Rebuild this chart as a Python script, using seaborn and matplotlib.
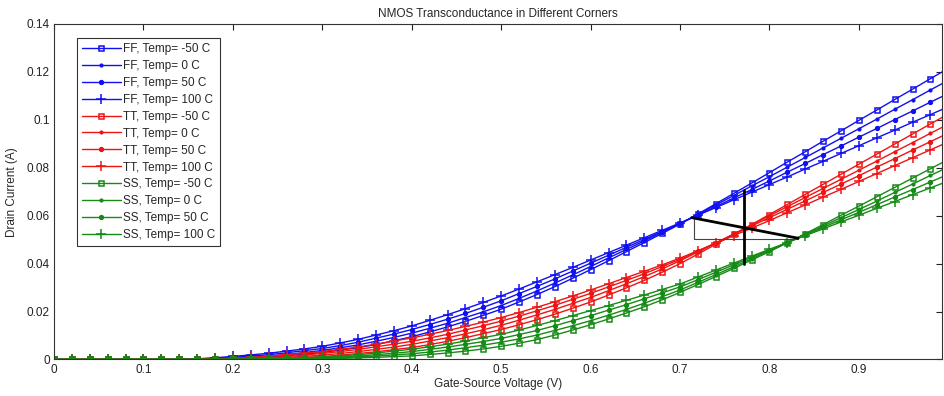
import matplotlib
matplotlib.use("Agg")
import matplotlib.pyplot as plt
import numpy as np
import pandas as pd
import seaborn as sns

# Gate-source sweep (V)
vgs = [round(0.02 * i, 2) for i in range(51)]

# Drain current per corner / temperature, in mA
ff_m50 = [0, 0, 0, 0, 0, 0, 0, 0, 0.0, 0.1, 0.2, 0.5, 0.9, 1.5, 2.2, 3.0, 3.9, 5.0, 6.2, 7.8,
          9.5, 11.5, 13.6, 15.9, 18.4, 21.0, 24.0, 27.1, 30.4, 33.9, 37.5, 41.2, 45.0, 48.8, 52.6,
          56.5, 60.7, 65.0, 69.3, 73.6, 78.0, 82.4, 86.7, 91.1, 95.4, 99.8, 104.1, 108.5, 112.8, 117.2, 121.5]
ff_0 = [0, 0, 0, 0, 0, 0, 0, 0.0, 0.1, 0.25, 0.5, 0.9, 1.4, 2.1, 2.9, 3.8, 4.9, 6.1, 7.6, 9.2,
        11.0, 13.0, 15.1, 17.5, 19.9, 22.5, 25.5, 28.6, 31.9, 35.3, 38.8, 42.4, 45.9, 49.5, 53.1,
        56.7, 60.6, 64.5, 68.4, 72.4, 76.3, 80.3, 84.3, 88.3, 92.3, 96.3, 100.3, 104.4, 108.4, 112.5, 116.5]
ff_50 = [0, 0, 0, 0, 0, 0, 0, 0.05, 0.2, 0.5, 0.9, 1.4, 2.0, 2.8, 3.7, 4.6, 5.8, 7.2, 8.9, 10.6,
         12.5, 14.6, 16.8, 19.2, 21.8, 24.5, 27.5, 30.5, 33.6, 36.9, 40.2, 43.5, 46.8, 50.1, 53.4,
         56.8, 60.3, 63.8, 67.4, 70.9, 74.5, 78.2, 81.8, 85.5, 89.1, 92.8, 96.4, 100.1, 103.7, 107.4, 111.0]
ff_100 = [0, 0, 0, 0, 0, 0, 0, 0.1, 0.3, 0.7, 1.3, 1.9, 2.6, 3.5, 4.4, 5.5, 6.9, 8.4, 10.2, 12.0,
          14.0, 16.3, 18.7, 21.2, 23.8, 26.5, 29.4, 32.4, 35.4, 38.4, 41.5, 44.6, 47.7, 50.8, 53.9,
          57.0, 60.2, 63.4, 66.6, 69.8, 73.0, 76.2, 79.5, 82.7, 86.0, 89.2, 92.5, 95.7, 99.0, 102.2, 105.5]

tt_m50 = [0, 0, 0, 0, 0, 0, 0, 0, 0, 0, 0.05, 0.15, 0.35, 0.6, 0.9, 1.2, 1.8, 2.5, 3.2, 4.1,
          5.0, 6.2, 7.6, 9.1, 10.8, 12.5, 14.5, 16.6, 18.9, 21.4, 24.0, 26.9, 29.9, 33.0, 36.4,
          40.0, 44.0, 48.1, 52.2, 56.3, 60.5, 64.7, 68.9, 73.1, 77.3, 81.5, 85.7, 89.9, 94.1, 98.3, 102.5]
tt_0 = [0, 0, 0, 0, 0, 0, 0, 0, 0.0, 0.05, 0.1, 0.3, 0.6, 0.9, 1.3, 1.8, 2.5, 3.3, 4.2, 5.2,
        6.3, 7.7, 9.1, 10.7, 12.4, 14.3, 16.4, 18.6, 20.9, 23.4, 25.9, 28.7, 31.6, 34.6, 37.8,
        41.2, 44.9, 48.6, 52.4, 56.2, 60.0, 63.8, 67.6, 71.4, 75.2, 79.0, 82.8, 86.7, 90.5, 94.4, 98.2]
tt_50 = [0, 0, 0, 0, 0, 0, 0, 0, 0.05, 0.15, 0.25, 0.5, 0.9, 1.3, 1.9, 2.5, 3.3, 4.2, 5.3, 6.4,
         7.6, 9.0, 10.5, 12.3, 14.1, 16.0, 18.1, 20.3, 22.6, 25.1, 27.6, 30.3, 33.0, 35.8, 38.8,
         41.8, 45.2, 48.7, 52.2, 55.7, 59.2, 62.7, 66.2, 69.7, 73.2, 76.7, 80.3, 83.8, 87.4, 90.9, 94.5]
tt_100 = [0, 0, 0, 0, 0, 0, 0, 0.0, 0.1, 0.25, 0.5, 0.9, 1.4, 2.0, 2.6, 3.3, 4.2, 5.2, 6.4, 7.7,
          9.0, 10.5, 12.1, 13.8, 15.6, 17.5, 19.6, 21.8, 24.1, 26.5, 29.0, 31.6, 34.2, 36.8, 39.5,
          42.3, 45.4, 48.5, 51.7, 54.8, 58.0, 61.3, 64.5, 67.8, 71.0, 74.3, 77.6, 80.9, 84.2, 87.5, 90.8]

ss_m50 = [0, 0, 0, 0, 0, 0, 0, 0, 0, 0, 0, 0, 0, 0.05, 0.15, 0.3, 0.45, 0.65, 0.9, 1.2,
          1.5, 2.1, 2.7, 3.5, 4.4, 5.5, 6.8, 8.3, 10.2, 12.3, 14.5, 16.9, 19.4, 22.0, 24.9,
          28.0, 31.3, 34.6, 38.0, 41.5, 45.0, 48.7, 52.5, 56.3, 60.2, 64.0, 67.9, 71.8, 75.7, 79.6, 83.5]
ss_0 = [0, 0, 0, 0, 0, 0, 0, 0, 0, 0, 0, 0, 0.05, 0.15, 0.3, 0.5, 0.75, 1.05, 1.45, 1.9,
        2.4, 3.1, 3.9, 4.9, 6.0, 7.2, 8.6, 10.2, 12.1, 14.1, 16.2, 18.5, 20.9, 23.5, 26.2,
        29.0, 32.2, 35.4, 38.7, 42.0, 45.4, 48.8, 52.3, 55.7, 59.2, 62.6, 66.1, 69.7, 73.2, 76.8, 80.3]
ss_50 = [0, 0, 0, 0, 0, 0, 0, 0, 0, 0, 0.05, 0.1, 0.2, 0.35, 0.5, 0.7, 1.05, 1.5, 2.0, 2.6,
         3.3, 4.2, 5.2, 6.3, 7.5, 8.8, 10.4, 12.1, 14.1, 16.2, 18.3, 20.6, 22.9, 25.3, 27.8,
         30.3, 33.3, 36.4, 39.5, 42.6, 45.7, 48.8, 52.0, 55.1, 58.3, 61.4, 64.6, 67.8, 70.9, 74.1, 77.3]
ss_100 = [0, 0, 0, 0, 0, 0, 0, 0, 0.0, 0.05, 0.1, 0.2, 0.35, 0.5, 0.75, 1.0, 1.5, 2.0, 2.7, 3.5,
          4.3, 5.3, 6.4, 7.7, 9.1, 10.5, 12.3, 14.2, 16.2, 18.3, 20.4, 22.5, 24.7, 26.9, 29.2,
          31.5, 34.4, 37.3, 40.2, 43.1, 46.0, 48.8, 51.7, 54.5, 57.4, 60.2, 63.1, 65.9, 68.8, 71.6, 74.5]

corners = ["FF", "TT", "SS"]
temps = [-50, 0, 50, 100]
series = {
    ("FF", -50): ff_m50, ("FF", 0): ff_0, ("FF", 50): ff_50, ("FF", 100): ff_100,
    ("TT", -50): tt_m50, ("TT", 0): tt_0, ("TT", 50): tt_50, ("TT", 100): tt_100,
    ("SS", -50): ss_m50, ("SS", 0): ss_0, ("SS", 50): ss_50, ("SS", 100): ss_100,
}

# Slope construction drawn over the curves (V, A)
slope_x = [0.713, 0.832]
slope_y = [0.0592, 0.0506]
marker_x = [0.772, 0.772]
marker_y = [0.0399, 0.0707]
step_x = [0.716, 0.716, 0.832]
step_y = [0.0592, 0.0502, 0.0502]

corner_colors = {"FF": "#1010f0", "TT": "#ee1414", "SS": "#168a16"}
temp_markers = {
    -50: dict(marker="s", markersize=3.6, markerfacecolor="none", markeredgewidth=1.1),
    0: dict(marker="o", markersize=2.2, markeredgewidth=0.8),
    50: dict(marker="o", markersize=3.0, markeredgewidth=0.8),
    100: dict(marker="+", markersize=6.5, markeredgewidth=1.1),
}

rows = []
for c in corners:
    for t in temps:
        label = f"{c}, Temp= {t} C"
        for v, i_ma in zip(vgs, series[(c, t)]):
            rows.append({"Vgs": v, "Id": i_ma * 1e-3, "label": label, "corner": c, "temp": t})
df = pd.DataFrame(rows)

sns.set_style("white")
plt.rcParams["font.family"] = ["Liberation Sans", "DejaVu Sans"]

fig = plt.figure(figsize=(9.44, 3.96), dpi=100)
ax = fig.add_axes([0.0572, 0.0922, 0.9408, 0.8472])

for c in corners:
    for t in temps:
        label = f"{c}, Temp= {t} C"
        sub = df[df["label"] == label]
        sns.lineplot(data=sub, x="Vgs", y="Id", ax=ax, color=corner_colors[c],
                     linewidth=1.0, label=label, estimator=None, sort=False,
                     markeredgecolor=corner_colors[c], **temp_markers[t])

ax.plot(step_x, step_y, color="#444444", linewidth=0.8)
ax.plot(slope_x, slope_y, color="black", linewidth=2.0)
ax.plot(marker_x, marker_y, color="black", linewidth=2.0)

ax.set_xlim(0, 0.993)
ax.set_ylim(0, 0.14)
ax.set_xticks(np.arange(0, 0.91, 0.1))
ax.set_xticklabels(["0", "0.1", "0.2", "0.3", "0.4", "0.5", "0.6", "0.7", "0.8", "0.9"])
ax.set_yticks(np.arange(0, 0.141, 0.02))
ax.set_yticklabels(["0", "0.02", "0.04", "0.06", "0.08", "0.1", "0.12", "0.14"])
ax.tick_params(direction="in", length=4, width=0.8, top=True, right=True,
               labelsize=8.5, colors="#222222", pad=3)
for s in ax.spines.values():
    s.set_color("#333333")
    s.set_linewidth(0.8)

ax.set_xlabel("Gate-Source Voltage (V)", fontsize=8.5, labelpad=2)
ax.set_ylabel("Drain Current (A)", fontsize=8.5, labelpad=6)
ax.set_title("NMOS Transconductance in Different Corners", fontsize=8.5, pad=5)

leg = ax.legend(loc="upper left", bbox_to_anchor=(0.026, 0.958), borderaxespad=0,
                fontsize=8.5, frameon=True, fancybox=False, handlelength=3.3,
                handletextpad=0.2, labelspacing=0.42, borderpad=0.4)
leg.get_frame().set_edgecolor("black")
leg.get_frame().set_linewidth(0.8)

fig.savefig("out.png", dpi=100)
